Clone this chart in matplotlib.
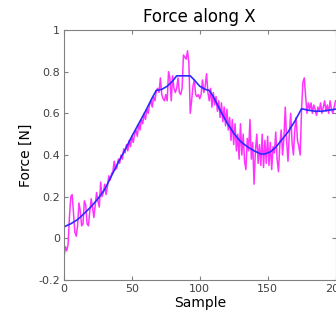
import matplotlib
matplotlib.use("Agg")
import matplotlib.pyplot as plt
from matplotlib.ticker import FuncFormatter

plt.rcParams["axes.unicode_minus"] = False
plt.rcParams["font.family"] = ["DejaVu Sans"]

# raw force samples (magenta)
raw_force = [
    -0.09, -0.04, -0.06, -0.03, 0.10, 0.20, 0.21, 0.12, 0.03, 0.01,
    0.06, 0.17, 0.13, 0.06, 0.07, 0.18, 0.16, 0.07, 0.06, 0.13,
    0.19, 0.15, 0.10, 0.16, 0.22, 0.18, 0.15, 0.27, 0.20, 0.22,
    0.26, 0.21, 0.25, 0.30, 0.28, 0.31, 0.32, 0.37, 0.33, 0.34,
    0.38, 0.36, 0.40, 0.38, 0.43, 0.41, 0.45, 0.42, 0.47, 0.44,
    0.49, 0.46, 0.50, 0.52, 0.49, 0.55, 0.52, 0.57, 0.55, 0.60,
    0.57, 0.62, 0.60, 0.64, 0.66, 0.63, 0.68, 0.66, 0.71, 0.72,
    0.70, 0.77, 0.69, 0.67, 0.66, 0.69, 0.66, 0.80, 0.77, 0.66,
    0.78, 0.72, 0.70, 0.72, 0.77, 0.70, 0.69, 0.72, 0.88, 0.87,
    0.86, 0.90, 0.84, 0.60, 0.66, 0.73, 0.76, 0.69, 0.68, 0.69,
    0.67, 0.69, 0.76, 0.70, 0.73, 0.79, 0.70, 0.66, 0.72, 0.63,
    0.70, 0.64, 0.68, 0.61, 0.66, 0.58, 0.65, 0.56, 0.63, 0.54,
    0.62, 0.52, 0.58, 0.47, 0.57, 0.45, 0.55, 0.42, 0.50, 0.38,
    0.55, 0.40, 0.50, 0.37, 0.33, 0.48, 0.42, 0.57, 0.38, 0.46,
    0.26, 0.42, 0.50, 0.36, 0.45, 0.35, 0.50, 0.34, 0.47, 0.36,
    0.49, 0.35, 0.46, 0.33, 0.44, 0.41, 0.51, 0.38, 0.32, 0.45,
    0.52, 0.40, 0.48, 0.63, 0.47, 0.37, 0.50, 0.60, 0.46, 0.40,
    0.52, 0.58, 0.47, 0.44, 0.40, 0.62, 0.75, 0.77, 0.68, 0.60,
    0.65, 0.62, 0.65, 0.60, 0.64, 0.62, 0.59, 0.63, 0.61, 0.65,
    0.60, 0.63, 0.66, 0.61, 0.64, 0.60, 0.66, 0.62, 0.60, 0.63,
    0.66,
]
raw_x = list(range(len(raw_force)))

# filtered force (blue)
filt_x = [0, 5, 10, 15, 20, 25, 30, 35, 40, 45, 50, 55, 60, 65, 68, 72, 76,
          80, 83, 93, 96, 100, 104, 107, 110, 115, 120, 125, 130, 135, 140,
          145, 148, 152, 156, 160, 165, 170, 175, 180, 185, 190, 195, 200]
filt_force = [0.055, 0.07, 0.09, 0.12, 0.152, 0.19, 0.235, 0.30, 0.365, 0.425,
              0.49, 0.55, 0.61, 0.675, 0.71, 0.715, 0.73, 0.755, 0.78, 0.78,
              0.76, 0.73, 0.715, 0.71, 0.68, 0.615, 0.555, 0.505, 0.465, 0.44,
              0.42, 0.405, 0.405, 0.415, 0.437, 0.47, 0.51, 0.562, 0.622, 0.615,
              0.61, 0.61, 0.615, 0.62]

x_ticks = [0, 50, 100, 150, 200]
y_ticks = [-0.2, 0, 0.2, 0.4, 0.6, 0.8, 1]

fig = plt.figure(figsize=(3.36, 3.2), dpi=100)
ax = fig.add_axes([64 / 336, 40 / 320, 271.5 / 336, 250 / 320])

ax.plot(raw_x, raw_force, color="#ff33ff", linewidth=1.1)
ax.plot(filt_x, filt_force, color="#2b2bff", linewidth=1.2)

ax.set_xlim(0, 200)
ax.set_ylim(-0.2, 1)
ax.set_xticks(x_ticks)
ax.set_yticks(y_ticks)
ax.yaxis.set_major_formatter(FuncFormatter(lambda v, _: f"{v:g}"))
ax.tick_params(direction="in", length=3, width=0.8, top=True, right=True,
               labelsize=8, colors="#808080", labelcolor="#404040", pad=3)
for spine in ax.spines.values():
    spine.set_color("#808080")
    spine.set_linewidth(0.8)

ax.set_title("Force along X", fontsize=12, pad=6)
ax.set_xlabel("Sample", fontsize=10, labelpad=1)
ax.set_ylabel("Force [N]", fontsize=10, labelpad=4)

fig.savefig("out.png", dpi=100)
